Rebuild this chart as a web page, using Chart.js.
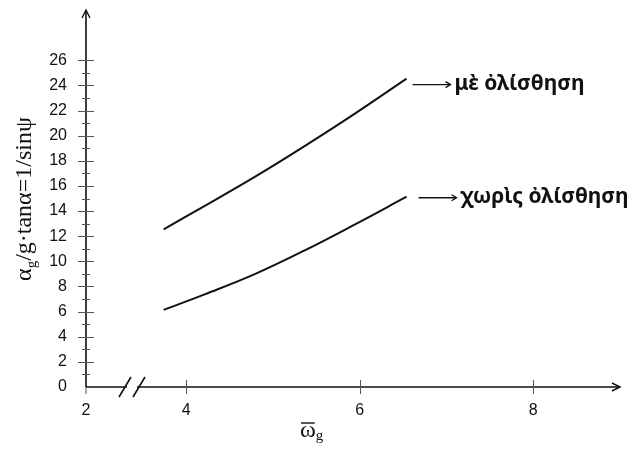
<!DOCTYPE html>
<html>
<head>
<meta charset="utf-8">
<script src="https://cdn.jsdelivr.net/npm/chart.js@4"></script>
<style>
  html, body { margin: 0; padding: 0; background: #fff; }
  #wrap { width: 637px; height: 449px; }
</style>
</head>
<body>
<div id="wrap"><canvas id="grafico" width="637" height="449"></canvas></div>
<script>
// values
const omegaValues = [3.74, 4.22, 4.79, 5.36, 5.94, 6.54];
const conOlisthisi = [12.55, 14.44, 16.72, 19.15, 21.74, 24.54];
const xorisOlisthisi = [6.14, 7.39, 8.98, 10.85, 12.92, 15.14];
const seriesNames = ['μὲ ὀλίσθηση', 'χωρὶς ὀλίσθηση'];
const yTickValues = [0, 2, 4, 6, 8, 10, 12, 14, 16, 18, 20, 22, 24, 26];
const xTickValues = [2, 4, 6, 8];

const X_MIN = 2.845; // the axis is broken between 2 and 4
const X_MAX = 9;
const Y_MAX = 30;

const toPoints = (ys) => omegaValues.map((x, i) => ({ x: x, y: ys[i] }));

const dibujo = {
  id: 'dibujo',
  afterDraw(chart) {
    const ctx = chart.ctx;
    const xs = chart.scales.x;
    const ys = chart.scales.y;
    const area = chart.chartArea;
    const x0 = area.left;
    const y0 = ys.getPixelForValue(0);

    ctx.save();
    ctx.strokeStyle = '#111';
    ctx.lineWidth = 1.6;

    // axes
    ctx.beginPath();
    ctx.moveTo(x0, y0);
    ctx.lineTo(x0, area.top);
    ctx.moveTo(x0, y0);
    ctx.lineTo(area.right, y0);
    ctx.stroke();

    // arrow heads
    ctx.lineWidth = 1.4;
    ctx.beginPath();
    ctx.moveTo(x0 - 4, area.top + 8);
    ctx.lineTo(x0, area.top);
    ctx.lineTo(x0 + 4, area.top + 8);
    ctx.moveTo(area.right - 8, y0 - 4);
    ctx.lineTo(area.right, y0);
    ctx.lineTo(area.right - 8, y0 + 4);
    ctx.stroke();

    // y ticks: major every 2, minor every 1
    ctx.strokeStyle = '#555';
    ctx.lineWidth = 1;
    for (let v = 1; v <= 26; v++) {
      const py = Math.round(ys.getPixelForValue(v)) + 0.5;
      const half = v % 2 === 0 ? 8 : 4;
      ctx.beginPath();
      ctx.moveTo(x0 - half, py);
      ctx.lineTo(x0 + half, py);
      ctx.stroke();
    }

    // x ticks
    xTickValues.forEach((v) => {
      if (v <= X_MIN) {
        ctx.beginPath();
        ctx.moveTo(x0, y0);
        ctx.lineTo(x0, y0 + 7);
        ctx.stroke();
        return;
      }
      const px = Math.round(xs.getPixelForValue(v)) + 0.5;
      ctx.beginPath();
      ctx.moveTo(px, y0 - 7);
      ctx.lineTo(px, y0 + 7);
      ctx.stroke();
    });

    // axis break
    const b1 = x0 + 39;
    const b2 = x0 + 53;
    ctx.fillStyle = '#fff';
    ctx.fillRect(b1 + 2, y0 - 2, b2 - b1 - 4, 4);
    ctx.strokeStyle = '#111';
    ctx.lineWidth = 1.6;
    ctx.beginPath();
    ctx.moveTo(b1 - 6, y0 + 10);
    ctx.lineTo(b1 + 6, y0 - 10);
    ctx.moveTo(b2 - 6, y0 + 10);
    ctx.lineTo(b2 + 6, y0 - 10);
    ctx.stroke();

    // labels at the end of each curve
    ctx.fillStyle = '#111';
    ctx.font = 'bold 21px "Noto Sans"';
    ctx.textBaseline = 'middle';
    chart.data.datasets.forEach((ds, i) => {
      const last = ds.data[ds.data.length - 1];
      const ex = xs.getPixelForValue(last.x);
      const ey = ys.getPixelForValue(last.y);
      const ax = ex + (i === 0 ? 6 : 12);
      const ay = ey + (i === 0 ? 6 : 1);
      ctx.lineWidth = 1.3;
      ctx.beginPath();
      ctx.moveTo(ax, ay);
      ctx.lineTo(ax + 38, ay);
      ctx.moveTo(ax + 33, ay - 3);
      ctx.lineTo(ax + 38, ay);
      ctx.lineTo(ax + 33, ay + 3);
      ctx.stroke();
      ctx.fillText(seriesNames[i], ax + 42, ay - 1);
    });

    // y title
    ctx.save();
    ctx.translate(31, 199);
    ctx.rotate(-Math.PI / 2);
    ctx.textBaseline = 'alphabetic';
    const partA = 'α';
    const partB = 'g';
    const partC = '/g·tanα=1/sinψ';
    ctx.font = '24px "Liberation Serif"';
    const wA = ctx.measureText(partA).width;
    const wC = ctx.measureText(partC).width;
    ctx.font = '15px "Liberation Serif"';
    const wB = ctx.measureText(partB).width;
    const total = wA + wB + wC;
    let cx = -total / 2;
    ctx.font = '24px "Liberation Serif"';
    ctx.fillText(partA, cx, 0);
    cx += wA;
    ctx.font = '15px "Liberation Serif"';
    ctx.fillText(partB, cx, 5);
    cx += wB;
    ctx.font = '24px "Liberation Serif"';
    ctx.fillText(partC, cx, 0);
    ctx.restore();

    // x title
    ctx.font = '24px "Liberation Serif"';
    ctx.textBaseline = 'alphabetic';
    const wo = ctx.measureText('ω').width;
    const ox = 300;
    const oy = 437;
    ctx.fillText('ω', ox, oy);
    ctx.lineWidth = 1.4;
    ctx.beginPath();
    ctx.moveTo(ox + 1, oy - 14);
    ctx.lineTo(ox + wo - 1, oy - 14);
    ctx.stroke();
    ctx.font = '15px "Liberation Serif"';
    ctx.fillText('g', ox + wo, oy + 3);

    ctx.restore();
  }
};

new Chart(document.getElementById('grafico'), {
  type: 'line',
  data: {
    datasets: [
      {
        label: seriesNames[0],
        data: toPoints(conOlisthisi),
        borderColor: '#111',
        borderWidth: 2,
        pointRadius: 0,
        tension: 0.4,
        fill: false,
      },
      {
        label: seriesNames[1],
        data: toPoints(xorisOlisthisi),
        borderColor: '#111',
        borderWidth: 2,
        pointRadius: 0,
        tension: 0.4,
        fill: false,
      },
    ],
  },
  options: {
    responsive: false,
    animation: false,
    events: [],
    layout: { padding: { left: 0, right: 17, top: 10, bottom: 0 } },
    plugins: { legend: { display: false }, tooltip: { enabled: false } },
    scales: {
      x: {
        type: 'linear',
        min: X_MIN,
        max: X_MAX,
        afterBuildTicks: (scale) => {
          scale.ticks = xTickValues.map((v) => ({ value: Math.max(v, X_MIN) }));
        },
        afterFit: (scale) => {
          scale.height = 62;
          scale.paddingLeft = 0;
          scale.paddingRight = 0;
        },
        ticks: {
          color: '#111',
          font: { family: 'Liberation Sans', size: 16 },
          padding: 6,
          callback: (v) => (v <= X_MIN ? '2' : String(v)),
        },
        grid: { display: false },
        border: { display: false },
      },
      y: {
        min: 0,
        max: Y_MAX,
        afterBuildTicks: (scale) => {
          scale.ticks = yTickValues.map((v) => ({ value: v }));
        },
        afterFit: (scale) => {
          scale.width = 86;
          scale.paddingTop = 0;
          scale.paddingBottom = 0;
        },
        ticks: {
          color: '#111',
          font: { family: 'Liberation Sans', size: 16 },
          padding: 11,
        },
        grid: { display: false },
        border: { display: false },
      },
    },
  },
  plugins: [dibujo],
});
</script>
</body>
</html>
